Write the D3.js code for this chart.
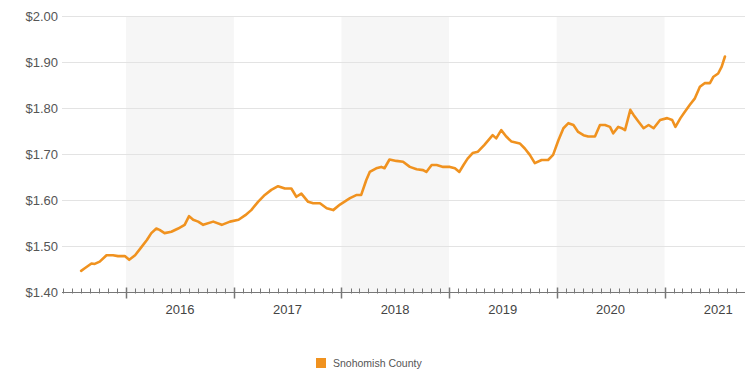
<!DOCTYPE html>
<html>
<head>
<meta charset="utf-8">
<script src="https://cdn.jsdelivr.net/npm/d3@7"></script>
<style>
  html, body { margin: 0; padding: 0; background: #fff; }
  #chart { width: 745px; height: 373px; }
  text { font-family: "Liberation Sans", Arial, sans-serif; }
</style>
</head>
<body>
<div id="chart"></div>
<script>
// Snohomish County average price
const dates = [
  '2015-08-02','2015-08-13','2015-09-06','2015-09-17','2015-10-04','2015-10-27','2015-11-18','2015-12-05','2015-12-28',
  '2016-01-12','2016-02-01','2016-02-23','2016-03-12','2016-03-27','2016-04-13','2016-04-24','2016-05-11','2016-06-03',
  '2016-06-26','2016-07-18','2016-08-02','2016-08-16','2016-09-02','2016-09-19','2016-10-23','2016-11-21','2016-12-19',
  '2017-01-17','2017-02-09','2017-03-01','2017-03-24','2017-04-16','2017-05-08','2017-05-31','2017-06-23','2017-07-15',
  '2017-08-01','2017-08-18','2017-09-10','2017-09-27','2017-10-20','2017-11-12','2017-12-04','2017-12-27',
  '2018-01-30','2018-02-22','2018-03-09','2018-03-26','2018-04-07','2018-04-29','2018-05-16','2018-05-27','2018-06-13',
  '2018-07-06','2018-07-29','2018-08-21','2018-09-13','2018-10-05','2018-10-16','2018-11-03','2018-11-20','2018-12-12',
  '2019-01-04','2019-01-21','2019-02-05','2019-02-19','2019-03-05','2019-03-22','2019-04-09','2019-05-01','2019-05-29',
  '2019-06-10','2019-06-27','2019-07-14','2019-08-01','2019-08-29','2019-09-15','2019-10-02','2019-10-19','2019-11-11',
  '2019-12-03','2019-12-20','2020-01-07','2020-01-24','2020-02-10','2020-02-27','2020-03-14','2020-04-01','2020-04-17',
  '2020-05-10','2020-05-27','2020-06-13','2020-06-30','2020-07-11','2020-07-28','2020-08-09','2020-08-20','2020-09-07',
  '2020-09-18','2020-10-05','2020-10-22','2020-11-08','2020-11-25','2020-12-17','2021-01-10','2021-01-27','2021-02-07',
  '2021-02-24','2021-03-11','2021-03-28','2021-04-14','2021-05-01','2021-05-17','2021-06-04','2021-06-16','2021-07-02',
  '2021-07-14','2021-07-25'
];
const prices = [
  1.446,1.451,1.462,1.461,1.466,1.480,1.480,1.478,1.478,
  1.470,1.480,1.498,1.513,1.528,1.538,1.535,1.528,1.531,
  1.538,1.546,1.565,1.557,1.553,1.546,1.553,1.546,1.553,
  1.557,1.567,1.578,1.596,1.611,1.622,1.630,1.625,1.625,
  1.607,1.614,1.596,1.593,1.593,1.582,1.578,1.590,
  1.604,1.611,1.611,1.643,1.661,1.669,1.672,1.669,1.688,
  1.685,1.683,1.672,1.667,1.665,1.661,1.676,1.676,1.672,
  1.672,1.669,1.661,1.676,1.690,1.702,1.705,1.720,1.741,
  1.734,1.752,1.738,1.727,1.723,1.712,1.698,1.680,1.687,
  1.687,1.698,1.730,1.756,1.767,1.763,1.748,1.741,1.738,
  1.738,1.763,1.763,1.759,1.745,1.759,1.756,1.752,1.796,
  1.785,1.770,1.756,1.763,1.756,1.774,1.778,1.774,1.759,
  1.778,1.792,1.807,1.821,1.846,1.854,1.854,1.868,1.875,
  1.890,1.912
];
const yTicks = [1.40, 1.50, 1.60, 1.70, 1.80, 1.90, 2.00];
const years = [2016, 2017, 2018, 2019, 2020, 2021];
const shadedYears = [2016, 2018, 2020];
const seriesName = 'Snohomish County';

const width = 745, height = 373;
const margin = { top: 16, right: 0, bottom: 81, left: 62 };
const lineColor = '#f0921f';
const parse = d3.timeParse('%Y-%m-%d');
const data = dates.map((d, i) => ({ date: parse(d), value: prices[i] }));

const svg = d3.select('#chart').append('svg')
  .attr('width', width)
  .attr('height', height);

const x = d3.scaleTime()
  .domain([new Date(2015, 4, 29), new Date(2021, 9, 1)])
  .range([margin.left, width - margin.right]);

const y = d3.scaleLinear()
  .domain([1.40, 2.00])
  .range([height - margin.bottom, margin.top]);

// Alternate year bands
svg.append('g')
  .selectAll('rect')
  .data(shadedYears)
  .enter()
  .append('rect')
  .attr('x', d => x(new Date(d, 0, 1)))
  .attr('y', y(2.00))
  .attr('width', d => x(new Date(d + 1, 0, 1)) - x(new Date(d, 0, 1)))
  .attr('height', y(1.40) - y(2.00))
  .attr('fill', '#f6f6f6');

// Horizontal grid
svg.append('g')
  .selectAll('line')
  .data(yTicks.slice(1))
  .enter()
  .append('line')
  .attr('x1', margin.left)
  .attr('x2', width - margin.right)
  .attr('y1', d => Math.round(y(d)) + 0.5)
  .attr('y2', d => Math.round(y(d)) + 0.5)
  .attr('stroke', '#e3e3e3')
  .attr('stroke-width', 1);

// Y labels
svg.append('g')
  .selectAll('text')
  .data(yTicks)
  .enter()
  .append('text')
  .attr('x', 58)
  .attr('y', d => y(d))
  .attr('dy', '0.35em')
  .attr('text-anchor', 'end')
  .style('font-size', '13px')
  .attr('fill', '#555')
  .text(d => '$' + d.toFixed(2));

// X axis: line, monthly minor ticks, yearly major ticks
const axisY = Math.round(y(1.40)) + 0.5;
const axis = svg.append('g').attr('stroke', '#777');
axis.append('line')
  .attr('x1', margin.left)
  .attr('x2', width - margin.right)
  .attr('y1', axisY)
  .attr('y2', axisY)
  .attr('stroke-width', 1.2);

const months = d3.timeMonth.range(x.domain()[0], x.domain()[1])
  .filter(d => d.getMonth() !== 0);
axis.selectAll('.minor')
  .data(months)
  .enter()
  .append('line')
  .attr('class', 'minor')
  .attr('x1', d => Math.round(x(d)) + 0.5)
  .attr('x2', d => Math.round(x(d)) + 0.5)
  .attr('y1', axisY - 4)
  .attr('y2', axisY + 1)
  .attr('stroke-width', 1);

axis.selectAll('.major')
  .data(years)
  .enter()
  .append('line')
  .attr('class', 'major')
  .attr('x1', d => Math.round(x(new Date(d, 0, 1))) + 0.5)
  .attr('x2', d => Math.round(x(new Date(d, 0, 1))) + 0.5)
  .attr('y1', axisY - 5)
  .attr('y2', axisY + 6)
  .attr('stroke-width', 1.5);

svg.append('g')
  .selectAll('text')
  .data(years)
  .enter()
  .append('text')
  .attr('x', d => x(new Date(d, 6, 2)))
  .attr('y', axisY + 21)
  .attr('text-anchor', 'middle')
  .style('font-size', '13px')
  .attr('fill', '#444')
  .text(d => d);

// Price line
const line = d3.line()
  .x(d => x(d.date))
  .y(d => y(d.value));

svg.append('path')
  .datum(data)
  .attr('d', line)
  .attr('fill', 'none')
  .attr('stroke', lineColor)
  .attr('stroke-width', 2.6)
  .attr('stroke-linejoin', 'round')
  .attr('stroke-linecap', 'round');

// Legend
const legend = svg.append('g').attr('transform', 'translate(316,358)');
legend.append('rect')
  .attr('width', 10)
  .attr('height', 10)
  .attr('fill', lineColor);
legend.append('text')
  .attr('x', 17)
  .attr('y', 5)
  .attr('dy', '0.35em')
  .style('font-size', '10.5px')
  .attr('fill', '#555')
  .text(seriesName);
</script>
</body>
</html>
